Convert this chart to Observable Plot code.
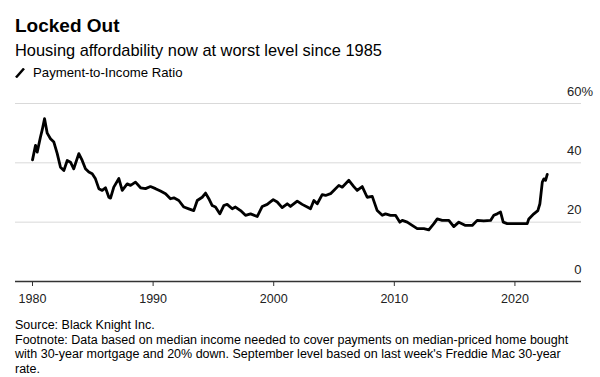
<!DOCTYPE html>
<html><head><meta charset="utf-8">
<script src="https://cdn.jsdelivr.net/npm/d3@7"></script>
<script src="https://cdn.jsdelivr.net/npm/@observablehq/plot@0.6"></script>
<style>
body{margin:0;background:#fff;font-family:"Liberation Sans",Arial,sans-serif;color:#000;}
#wrap{position:relative;width:600px;height:377px;overflow:hidden;background:#fff;}
.title{position:absolute;left:15px;top:16px;font-weight:bold;font-size:19px;line-height:20px;white-space:nowrap;}
.subtitle{position:absolute;left:15px;top:40px;font-size:16.4px;line-height:20px;white-space:nowrap;}
.legend{position:absolute;left:15px;top:64px;font-size:13.2px;line-height:18px;white-space:nowrap;display:flex;align-items:center;}
.legend svg{margin-right:8px;}
#chart{position:absolute;left:0;top:84px;}
.foot{position:absolute;left:15px;top:318px;font-size:12.5px;line-height:14.5px;white-space:nowrap;}
</style></head>
<body>
<div id="wrap">
  <div class="title">Locked Out</div>
  <div class="subtitle">Housing affordability now at worst level since 1985</div>
  <div class="legend"><svg width="10" height="10"><line x1="1" y1="9.5" x2="9" y2="0.5" stroke="#000" stroke-width="2.5"/></svg><span>Payment-to-Income Ratio</span></div>
  <div id="chart"></div>
  <div class="foot">Source: Black Knight Inc.<br>Footnote: Data based on median income needed to cover payments on median-priced home bought<br>with 30-year mortgage and 20% down. September level based on last week's Freddie Mac 30-year<br>rate.</div>
</div>
<script>
const years = [1980.00,1980.25,1980.39,1980.66,1980.80,1981.00,1981.22,1981.49,1981.77,1982.05,1982.32,1982.60,1982.88,1983.15,1983.42,1983.84,1984.12,1984.39,1984.67,1984.95,1985.22,1985.50,1985.78,1986.05,1986.33,1986.47,1986.74,1987.16,1987.44,1987.85,1988.13,1988.54,1988.96,1989.37,1989.78,1990.20,1990.61,1991.03,1991.44,1991.72,1992.13,1992.55,1992.96,1993.37,1993.66,1994.07,1994.35,1994.62,1994.90,1995.17,1995.53,1995.86,1996.14,1996.56,1996.83,1997.25,1997.66,1998.08,1998.63,1999.05,1999.46,1999.96,2000.29,2000.70,2001.12,2001.39,2001.95,2002.36,2002.78,2003.05,2003.33,2003.61,2004.02,2004.30,2004.71,2004.98,2005.40,2005.68,2006.23,2006.64,2006.92,2007.34,2007.75,2008.17,2008.58,2009.00,2009.27,2009.68,2010.10,2010.46,2010.66,2011.07,2011.48,2011.90,2012.45,2012.86,2013.28,2013.56,2013.97,2014.52,2014.93,2015.35,2015.90,2016.46,2016.87,2017.42,2017.98,2018.25,2018.53,2018.81,2019.03,2019.36,2019.91,2020.46,2021.02,2021.15,2021.57,2021.90,2022.07,2022.27,2022.40,2022.54,2022.68];
const values = [41.0,45.9,43.6,48.7,51.0,54.9,50.0,48.1,47.0,43.1,38.5,37.4,40.8,40.2,38.0,43.1,40.8,38.0,36.9,36.3,34.6,31.3,30.7,31.6,28.4,28.1,31.8,34.7,30.7,32.9,32.4,33.5,31.6,31.3,32.0,31.3,30.5,29.6,27.9,28.2,27.3,25.1,24.5,23.9,27.3,28.4,29.8,27.9,25.6,25.1,22.8,25.6,26.0,24.5,25.1,23.9,22.3,22.8,21.9,25.3,26.0,27.6,26.8,24.9,26.2,25.3,27.1,26.0,25.1,24.5,27.3,26.2,29.3,29.0,29.6,30.7,32.4,31.8,34.1,32.0,30.7,32.0,28.4,28.7,23.9,22.3,22.8,22.3,22.3,20.0,20.6,20.0,18.9,17.8,17.8,17.4,19.5,21.1,20.6,20.6,18.5,20.0,18.9,18.9,20.6,20.4,20.6,22.3,22.8,23.4,20.0,19.5,19.5,19.5,19.5,21.1,22.8,23.9,26.2,33.5,34.6,34.1,36.1];
const yTicks = [0, 20, 40, 60];
const xTicks = [1980, 1990, 2000, 2010, 2020];

const data = years.map((y, i) => ({year: y, value: values[i]}));

const chart = Plot.plot({
  width: 600,
  height: 226,
  marginLeft: 15,
  marginRight: 19,
  marginTop: 19,
  marginBottom: 29,
  x: {domain: [1978.59, 2025.52], label: null},
  y: {domain: [0, 60], label: null, axis: null},
  style: {fontFamily: "'Liberation Sans', Arial, sans-serif", background: "#fff", color: "#222"},
  marks: [
    Plot.ruleY(yTicks.filter(d => d > 0), {stroke: "#d9d9d9", strokeWidth: 1}),
    Plot.ruleY([0], {stroke: "#333", strokeWidth: 1.4}),
    Plot.axisX({ticks: xTicks, tickFormat: d => String(d), tickSize: 5, tickPadding: 8, stroke: "#333", fill: "#222", fontSize: 12.5, label: null}),
    Plot.text(yTicks, {y: d => d, text: d => String(d), frameAnchor: "right", textAnchor: "end", dy: -12, fontSize: 13, fill: "#222"}),
    Plot.text([60], {y: d => d, text: () => "%", frameAnchor: "right", textAnchor: "start", dy: -12, fontSize: 13, fill: "#222"}),
    Plot.line(data, {x: "year", y: "value", stroke: "#000", strokeWidth: 2.8, strokeLinejoin: "round", strokeLinecap: "round"})
  ]
});
document.getElementById("chart").appendChild(chart);
</script>
</body></html>
